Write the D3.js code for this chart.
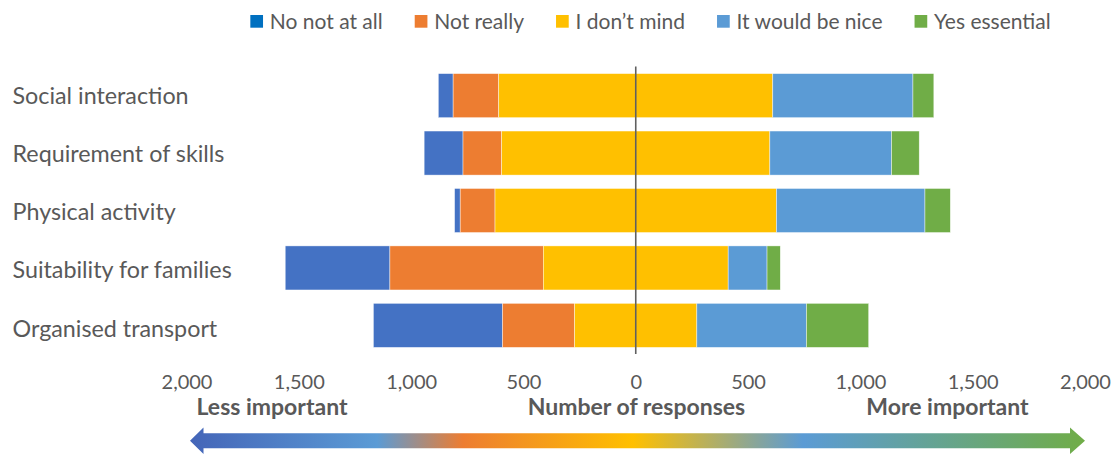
<!DOCTYPE html>
<html>
<head>
<meta charset="utf-8">
<script src="https://cdn.jsdelivr.net/npm/d3@7/dist/d3.min.js"></script>
<style>
  html, body { margin: 0; padding: 0; background: #fff; }
  svg { display: block; font-family: Lato, "Open Sans", sans-serif; }
</style>
</head>
<body>
<svg id="chart" width="1116" height="454"></svg>
<script>
// Survey questions, top to bottom
const categories = [
  "Social interaction",
  "Requirement of skills",
  "Physical activity",
  "Suitability for families",
  "Organised transport"
];

// Response options, from least to most important
const responses = ["No not at all", "Not really", "I don\u2019t mind", "It would be nice", "Yes essential"];

// Number of responses per option, one array per option (same order as categories)
const noNotAtAll    = [66, 173, 25, 466, 575];
const notReally     = [203, 172, 155, 683, 321];
const dontMind      = [1220, 1194, 1253, 823, 544];
const wouldBeNice   = [624, 542, 661, 173, 488];
const yesEssential  = [93, 123, 113, 59, 277];

const seriesValues = [noNotAtAll, notReally, dontMind, wouldBeNice, yesEssential];

const barColors    = ["#4472C4", "#ED7D31", "#FFC000", "#5B9BD5", "#70AD47"];
const legendColors = ["#0070C0", "#ED7D31", "#FFC000", "#5B9BD5", "#70AD47"];

// Axis ticks (shown as absolute counts on both sides of zero)
const tickValues = [-2000, -1500, -1000, -500, 0, 500, 1000, 1500, 2000];

const textColor = "#595959";
const svg = d3.select("#chart");

const x = d3.scaleLinear().domain([-2000, 2000]).range([186.5, 1085]);
const y = d3.scaleBand().domain(categories).range([67, 354]).paddingInner(0.233).paddingOuter(0.115);
// Category label rows (baselines)
const yLabel = d3.scalePoint().domain(categories).range([103.8, 336.7]);

// Diverging stack: the neutral option is split evenly around zero
const rows = categories.map((cat, i) => {
  const vals = seriesValues.map(s => s[i]);
  let start = -(vals[0] + vals[1] + vals[2] / 2);
  return vals.map((v, k) => {
    const seg = { cat, key: responses[k], k, x0: start, x1: start + v };
    start += v;
    return seg;
  });
});

const g = svg.append("g");
g.selectAll("g.row")
  .data(rows)
  .join("g")
  .attr("class", "row")
  .selectAll("rect")
  .data(d => d)
  .join("rect")
  .attr("x", d => x(d.x0))
  .attr("width", d => x(d.x1) - x(d.x0))
  .attr("y", d => y(d.cat))
  .attr("height", y.bandwidth())
  .attr("fill", d => barColors[d.k])
  .attr("stroke", "#ffffff")
  .attr("stroke-width", 0.6)
  .attr("stroke-opacity", 0.7);

// Zero line
svg.append("line")
  .attr("x1", x(0)).attr("x2", x(0))
  .attr("y1", 66.5).attr("y2", 354)
  .attr("stroke", "#606060")
  .attr("stroke-width", 1.6);

// Category labels
svg.append("g")
  .selectAll("text")
  .data(categories)
  .join("text")
  .attr("x", 12.5)
  .attr("y", d => yLabel(d))
  .attr("fill", textColor)
  .attr("font-size", 23.3)
  .text(d => d);

// Bottom axis with absolute values
const axis = d3.axisBottom(x)
  .tickValues(tickValues)
  .tickSize(0)
  .tickPadding(0)
  .tickFormat(d => d3.format(",")(Math.abs(d)));

const axisG = svg.append("g")
  .attr("transform", "translate(0,371)")
  .call(axis);
axisG.select(".domain").remove();
axisG.selectAll("text")
  .attr("fill", textColor)
  .attr("font-size", 20)
  .attr("font-family", "Lato, sans-serif")
  .attr("dy", "0.92em");

// Axis annotations
const notes = [
  { text: "Less important", cx: 272 },
  { text: "Number of responses", cx: 636.5 },
  { text: "More important", cx: 947.5 }
];
svg.append("g")
  .selectAll("text")
  .data(notes)
  .join("text")
  .attr("x", d => d.cx)
  .attr("y", 415)
  .attr("text-anchor", "middle")
  .attr("font-weight", "bold")
  .attr("font-size", 23)
  .attr("fill", textColor)
  .text(d => d.text);

// Gradient double-headed arrow
const defs = svg.append("defs");
const grad = defs.append("linearGradient")
  .attr("id", "arrowGrad")
  .attr("gradientUnits", "userSpaceOnUse")
  .attr("x1", 190).attr("x2", 1085)
  .attr("y1", 0).attr("y2", 0);
const gradStops = [
  [0.0, "#4465B8"],
  [0.209, "#5B9BD5"],
  [0.305, "#ED7D31"],
  [0.495, "#FFC000"],
  [0.685, "#5B9BD5"],
  [1.0, "#70AD47"]
];
grad.selectAll("stop")
  .data(gradStops)
  .join("stop")
  .attr("offset", d => d[0])
  .attr("stop-color", d => d[1]);

const ay = 440.8, bodyH = 7.5, headH = 13.2;
const lt = 190, lb = 203.5, rb = 1070, rt = 1085;
const arrowPath = d3.path();
arrowPath.moveTo(lt, ay);
arrowPath.lineTo(lb, ay - headH);
arrowPath.lineTo(lb, ay - bodyH);
arrowPath.lineTo(rb, ay - bodyH);
arrowPath.lineTo(rb, ay - headH);
arrowPath.lineTo(rt, ay);
arrowPath.lineTo(rb, ay + headH);
arrowPath.lineTo(rb, ay + bodyH);
arrowPath.lineTo(lb, ay + bodyH);
arrowPath.lineTo(lb, ay + headH);
arrowPath.closePath();
svg.append("path")
  .attr("d", arrowPath.toString())
  .attr("fill", "url(#arrowGrad)");

// Legend, centred above the plot
const legend = svg.append("g");
const items = legend.selectAll("g")
  .data(responses)
  .join("g");
items.append("rect")
  .attr("width", 12.7).attr("height", 12.7)
  .attr("y", 15)
  .attr("fill", (d, i) => legendColors[i]);
items.append("text")
  .attr("x", 19.5)
  .attr("y", 28.6)
  .attr("font-size", 21)
  .attr("fill", textColor)
  .text(d => d);
let cursor = 0;
items.each(function () {
  const w = d3.select(this).select("text").node().getComputedTextLength();
  d3.select(this).attr("transform", `translate(${cursor},0)`);
  cursor += 19.5 + w + 32;
});
const legendWidth = cursor - 32;
legend.attr("transform", `translate(${650.5 - legendWidth / 2},0)`);
</script>
</body>
</html>
